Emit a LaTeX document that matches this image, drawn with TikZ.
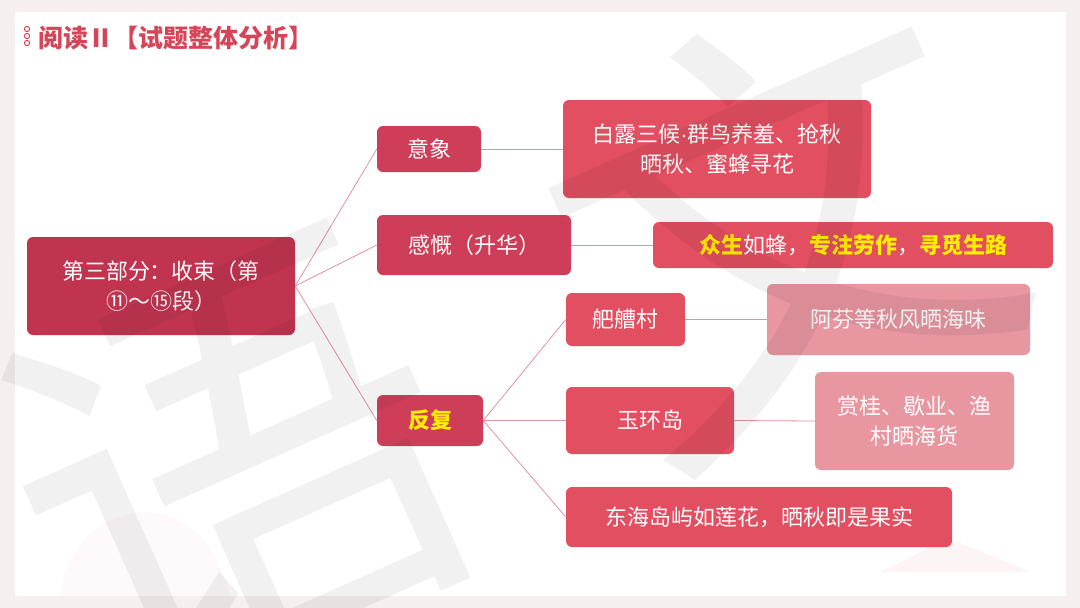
\documentclass[tikz,border=0pt]{standalone}
\usepackage{fontspec}
\setmainfont{Noto Sans CJK SC}
\newfontfamily\latinfont{Liberation Sans}
\usetikzlibrary{positioning}
\definecolor{PageGray}{RGB}{246,239,240}
\definecolor{TitleRed}{RGB}{214,68,88}
\definecolor{RootRed}{RGB}{193,52,80}
\definecolor{MidRed}{RGB}{206,62,88}
\definecolor{LeafRed}{RGB}{226,79,97}
\definecolor{LeafPink}{RGB}{232,150,160}
\definecolor{LinkPink}{RGB}{230,145,160}
\definecolor{MarkYellow}{RGB}{255,238,0}
\newcommand{\hl}[1]{{\bfseries\color{MarkYellow}#1}}

\begin{document}
\begin{tikzpicture}[x=1pt,y=-1pt,
  box/.style={rounded corners=6pt,text=white,align=center,inner sep=0pt,
    font=\fontsize{22}{30}\selectfont},
  rootbox/.style={box,fill=RootRed},
  midbox/.style={box,fill=MidRed},
  leafbox/.style={box,fill=LeafRed},
  softbox/.style={box,fill=LeafPink},
  link/.style={LinkPink,line width=0.8pt},
  watermark/.style={rotate=24,text=black,text opacity=0.055,inner sep=0pt,
    font=\fontsize{440}{440}\selectfont}]
  \useasboundingbox (0,0) rectangle (1080,608);
  \fill[PageGray] (0,0) rectangle (1080,608);
  \fill[white] (15,12) rectangle (1066,596);
  % faint hills
  \fill[LeafPink,opacity=0.10] (880,572) -- (935,545) .. controls (945,540) and (955,540) .. (965,545) -- (1030,572) -- cycle;
  \fill[LeafPink,opacity=0.04] (60,596) .. controls (70,500) and (200,470) .. (230,596) -- cycle;
  % title
  \foreach \y in {29,36,43}
    \draw[TitleRed,line width=1pt] (27,\y) circle (2.6);
  \node[anchor=west,inner sep=0pt,text=TitleRed,font=\fontsize{25}{30}\selectfont\bfseries]
    (title) at (38,38) {阅读Ⅱ【试题整体分析】};
  % nodes
  \node[rootbox,minimum width=268,minimum height=98] (root) at (161,286)
    {第三部分：收束（第\\⑪～⑮段）};
  \node[midbox,minimum width=104,minimum height=46] (image) at (429,149) {意象};
  \node[midbox,minimum width=194,minimum height=60] (feel) at (474,245) {感慨（升华）};
  \node[midbox,minimum width=106,minimum height=51] (repeat) at (430,420.5) {\hl{反复}};
  \node[leafbox,minimum width=308,minimum height=98] (bailu) at (717,149)
    {白露三候{\latinfont ·}群鸟养羞、抢秋\\晒秋、蜜蜂寻花};
  \node[leafbox,minimum width=400,minimum height=46] (bees) at (853,245)
    {\hl{众生}如蜂，\hl{专注劳作}，\hl{寻觅生路}};
  \node[leafbox,minimum width=119,minimum height=53] (village) at (625.5,319.5) {舥艚村};
  \node[leafbox,minimum width=168,minimum height=67] (island) at (650,420.5) {玉环岛};
  \node[leafbox,minimum width=386,minimum height=60] (lotus) at (759,517)
    {东海岛屿如莲花，晒秋即是果实};
  \node[softbox,minimum width=263,minimum height=71] (afen) at (898.5,319.5) {阿芬等秋风晒海味};
  \node[softbox,minimum width=199,minimum height=98] (gui) at (914.5,421)
    {赏桂、歇业、渔\\村晒海货};
  % links
  \draw[link] (root.east) -- (image.west);
  \draw[link] (root.east) -- (feel.west);
  \draw[link] (root.east) -- (repeat.west);
  \draw[link] (image.east) -- (bailu.west);
  \draw[link] (feel.east) -- (bees.west);
  \draw[link] (repeat.east) -- (village.west);
  \draw[link] (repeat.east) -- (island.west);
  \draw[link] (repeat.east) -- (lotus.west);
  \draw[link] (village.east) -- (afen.west);
  \draw[link] (island.east) -- (gui.west);
  % watermark
  \begin{scope}
    \clip (0,0) rectangle (1080,608);
    \node[watermark] (markyu) at (235,470) {语};
    \node[watermark] (markwen) at (780,220) {文};
  \end{scope}
\end{tikzpicture}
\end{document}
